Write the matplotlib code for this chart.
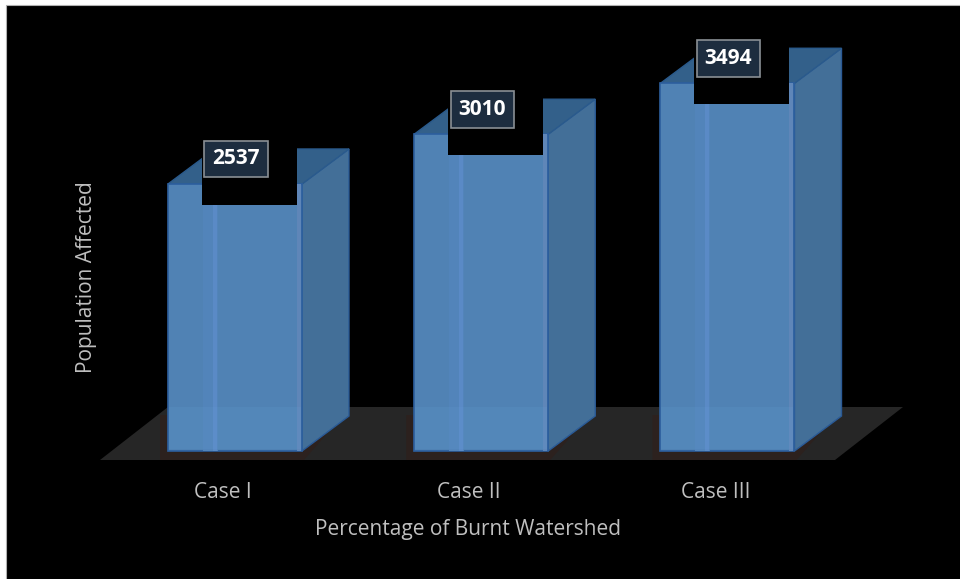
import matplotlib.pyplot as plt
from matplotlib.patches import Polygon, Rectangle

categories = ["Case I", "Case II", "Case III"]
population = [2537, 3010, 3494]

W, H = 960, 579
DEPTH_X, DEPTH_Y = 47, 35  # 3D box depth, pixels
AX_L, AX_R, AX_T, AX_B = 100, 905, 40, 460
X0, X_UNIT = 235, 246.25  # pixel of first bar, pixels per category
Y0, Y_UNIT = 451, 0.10525  # pixel of zero, pixels per person
BAR_W = 134 / X_UNIT
TEXT_GREY = "#bfbfbf"

plt.rcParams["font.family"] = ["Open Sans", "DejaVu Sans"]

fig = plt.figure(figsize=(W / 100, H / 100), dpi=100, facecolor="white")
# black panel runs off the right and bottom of the picture
fig.add_artist(Rectangle((6 / W, -0.01), (W - 6 + 10) / W, (H - 5) / H + 0.01, transform=fig.transFigure,
                         facecolor="black", edgecolor="#b0b0b0", linewidth=0.8, zorder=-1))

ax = fig.add_axes([AX_L / W, 1 - AX_B / H, (AX_R - AX_L) / W, (AX_B - AX_T) / H])
ax.set_facecolor("none")
ax.set_xlim((AX_L - X0) / X_UNIT, (AX_R - X0) / X_UNIT)
ax.set_ylim((Y0 - AX_B) / Y_UNIT, (Y0 - AX_T) / Y_UNIT)
for s in ax.spines.values():
    s.set_visible(False)

dx = DEPTH_X / X_UNIT
dy = DEPTH_Y / Y_UNIT
y_front = (Y0 - 460) / Y_UNIT
y_back = (Y0 - 407) / Y_UNIT
x_left = ax.get_xlim()[0]
x_floor_r = (835 - X0) / X_UNIT


def add_poly(points, **kw):
    ax.add_patch(Polygon(points, closed=True, clip_on=False, **kw))


# floor
add_poly([(x_left, y_front), (x_floor_r, y_front), (x_floor_r + 68 / X_UNIT, y_back),
          (x_left + 68 / X_UNIT, y_back)], facecolor="#262626", edgecolor="none", zorder=1)

for i, val in enumerate(population):
    l, r = i - BAR_W / 2, i + BAR_W / 2
    # brown shadow round the base
    add_poly([(l - 8 / X_UNIT, y_front), (r + 2 / X_UNIT, y_front), (r + 24 / X_UNIT, 16 / Y_UNIT),
              (r + 24 / X_UNIT, 36 / Y_UNIT), (l - 8 / X_UNIT, 36 / Y_UNIT)],
             facecolor="#2c211e", edgecolor="none", zorder=1.5)
    # side and top faces
    add_poly([(r, 0), (r + dx, dy), (r + dx, val + dy), (r, val)],
             facecolor="#436f98", edgecolor="#2a5a96", linewidth=1.0, zorder=2)
    add_poly([(l, val), (r, val), (r + dx, val + dy), (l + dx, val + dy)],
             facecolor="#33608a", edgecolor="#2a5a8c", linewidth=1.0, zorder=2)
    # front face
    ax.bar(i, val, width=BAR_W, color="#5082b4", edgecolor="#2d5f9e", linewidth=1.2, zorder=3)
    # back edges seen through the front
    ax.add_patch(Rectangle((l + 35 / X_UNIT, 0), 15 / X_UNIT, val, facecolor="#5284ba",
                           edgecolor="none", zorder=3.1))
    ax.add_patch(Rectangle((l + 45 / X_UNIT, 0), 4 / X_UNIT, val, facecolor="#5a8ac6",
                           edgecolor="none", zorder=3.2))
    ax.add_patch(Rectangle((r - 5 / X_UNIT, 0), 4 / X_UNIT, val, facecolor="#5f86b8",
                           edgecolor="none", zorder=3.2))
    # floor seen through the lower part of the front
    ax.add_patch(Rectangle((l + 1 / X_UNIT, 2 / Y_UNIT), BAR_W - 2 / X_UNIT, 42 / Y_UNIT,
                           facecolor="#6aa6dc", alpha=0.14, edgecolor="none", zorder=3.3))
    # black patch behind the data label
    ax.add_patch(Rectangle((i - 33 / X_UNIT, val - 21 / Y_UNIT), 95 / X_UNIT, 65 / Y_UNIT,
                           facecolor="black", edgecolor="none", zorder=4))
    ax.text(i + 1 / X_UNIT, val + 25 / Y_UNIT, str(val), ha="center", va="center", color="white",
            fontsize=15, fontweight="bold", zorder=6,
            bbox=dict(boxstyle="square,pad=0.38", facecolor="#1d2d3f", edgecolor="#8a8f94", linewidth=1.2))

ax.set_yticks([])
# tick labels sit a little left of the bar centres in the original
ax.set_xticks([i - 12 / X_UNIT for i in range(len(categories))], categories)
ax.tick_params(axis="x", length=0, pad=16, labelsize=15, labelcolor=TEXT_GREY)
ax.set_xlabel("Percentage of Burnt Watershed", fontsize=15, color=TEXT_GREY)
ax.xaxis.set_label_coords((468 - AX_L) / (AX_R - AX_L), (AX_B - 519) / (AX_B - AX_T))
ax.set_ylabel("Population Affected", fontsize=15, color=TEXT_GREY)
ax.yaxis.set_label_coords((97 - AX_L) / (AX_R - AX_L), (AX_B - 277) / (AX_B - AX_T))

fig.savefig("out.png", dpi=100)
